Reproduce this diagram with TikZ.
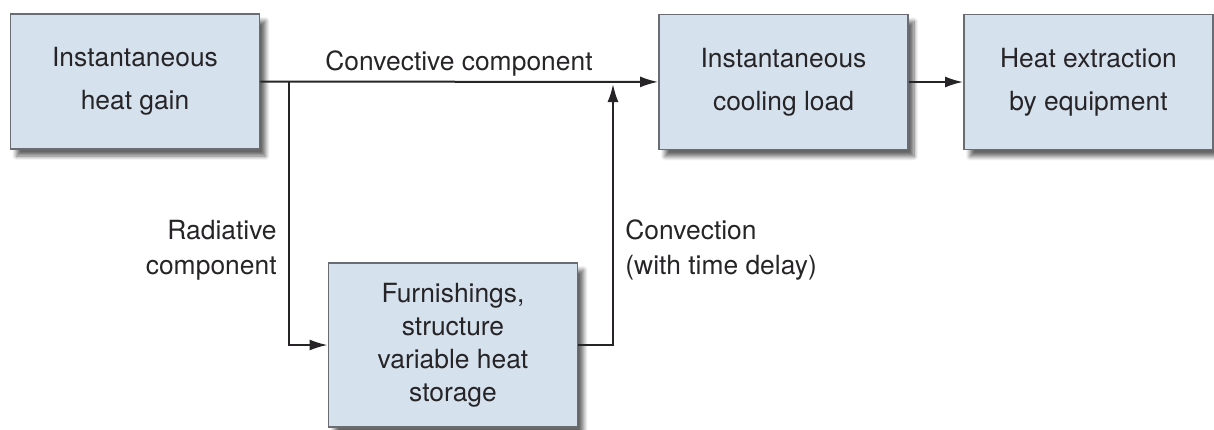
\documentclass[tikz,border=0pt]{standalone}
\usepackage{fontspec}
\setmainfont{TeX Gyre Heros}
\usetikzlibrary{arrows.meta,shadows.blur}
\definecolor{boxfill}{RGB}{214,225,238}
\definecolor{boxline}{RGB}{105,108,114}
\definecolor{inkgray}{RGB}{38,36,38}
\begin{document}
\begin{tikzpicture}[x=0.5pt,y=-0.5pt,
	blk/.style={draw=boxline,line width=0.9pt,fill=boxfill,align=center,text=inkgray,
		minimum width=124.5pt,minimum height=67.5pt,inner sep=0pt,
		font=\fontsize{13.2}{21.5}\selectfont,
		blur shadow={shadow xshift=3pt,shadow yshift=-3.5pt,shadow blur steps=8,shadow opacity=60}},
	arr/.style={draw=inkgray,line width=1pt,-{Latex[length=9pt,width=5.5pt]}},
	lbl/.style={text=inkgray,font=\fontsize{13.2}{17.5}\selectfont,inner sep=0pt}]
	\useasboundingbox (0,0) rectangle (1214,429);
	\node[blk] (gain) at (135,81.5) {Instantaneous\\heat gain};
	\node[blk] (cool) at (783.5,82) {Instantaneous\\cooling load};
	\node[blk] (extr) at (1088.5,82) {Heat extraction\\by equipment};
	\node[blk,minimum height=82pt,font=\fontsize{13.2}{16.5}\selectfont] (store) at (453,345) {Furnishings,\\structure\\variable heat\\storage};
	\coordinate (split) at (289,82);
	\coordinate (merge) at (613,84);
	\draw[arr] (gain) -- (cool);
	\draw[arr] (cool) -- (extr);
	\draw[arr] (split) |- (store.west);
	\draw[arr] (store.east) -| (merge);
	\node[lbl,anchor=base] (convlbl) at (459,70) {Convective component};
	\node[lbl,anchor=east,align=right] (radlbl) at (277,250) {Radiative\\component};
	\node[lbl,anchor=west,align=left] (delaylbl) at (625,250) {Convection\\(with time delay)};
\end{tikzpicture}
\end{document}
